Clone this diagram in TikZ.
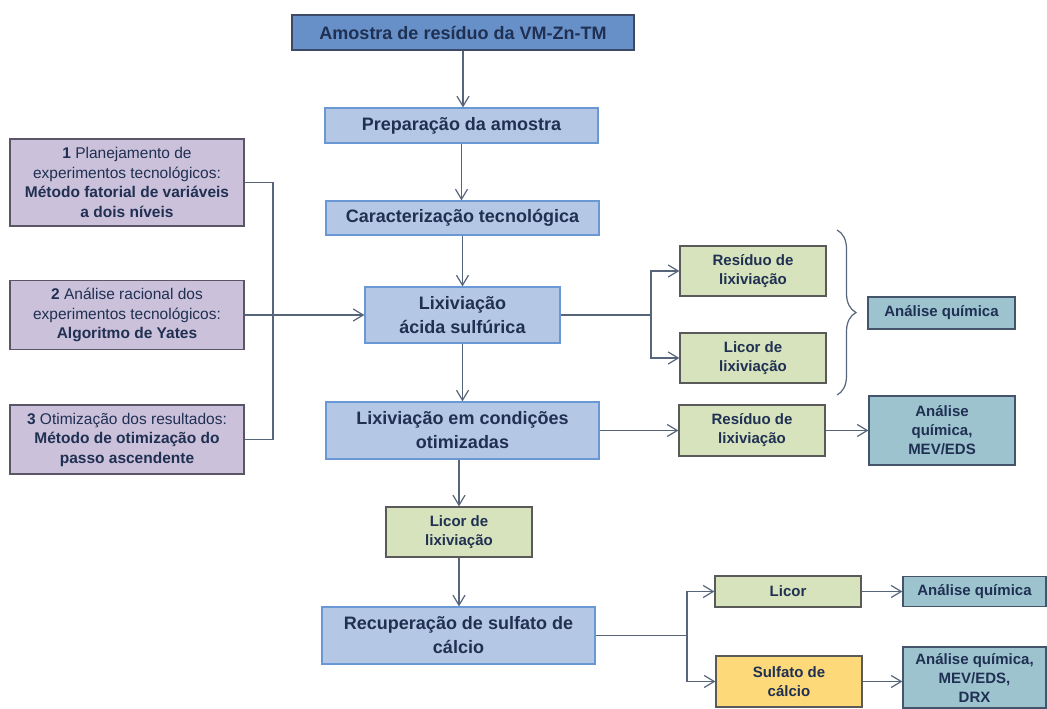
\documentclass[tikz,border=0pt]{standalone}
\usepackage{fontspec}
\setmainfont{Liberation Sans}
\usetikzlibrary{arrows.meta,decorations.pathreplacing}
\definecolor{txt}{HTML}{1F3052}
\definecolor{topfill}{HTML}{6890C8}
\definecolor{topline}{HTML}{3C4A68}
\definecolor{lbfill}{HTML}{B4C7E5}
\definecolor{lbline}{HTML}{6A98D4}
\definecolor{purfill}{HTML}{CCC1DA}
\definecolor{purline}{HTML}{5A5668}
\definecolor{grfill}{HTML}{D6E3BC}
\definecolor{grline}{HTML}{5A5A5A}
\definecolor{tlfill}{HTML}{9DC3CF}
\definecolor{tlline}{HTML}{44546A}
\definecolor{yefill}{HTML}{FDD97A}
\definecolor{conn}{HTML}{56657A}
\tikzset{
  box/.style={draw, line width=1.3pt, inner sep=2pt, align=center, text=txt, font=\bfseries},
  topbox/.style={box, fill=topfill, draw=topline, font=\fontsize{18}{22}\selectfont\bfseries},
  bluebox/.style={box, fill=lbfill, draw=lbline, font=\fontsize{18}{24}\selectfont\bfseries},
  purbox/.style={box, fill=purfill, draw=purline, font=\fontsize{15.5}{19.5}\selectfont},
  grbox/.style={box, fill=grfill, draw=grline, font=\fontsize{15}{19}\selectfont\bfseries},
  tlbox/.style={box, fill=tlfill, draw=tlline, font=\fontsize{15}{19}\selectfont\bfseries},
  yebox/.style={box, fill=yefill, draw=grline, font=\fontsize{15}{19}\selectfont\bfseries},
  ln/.style={draw=conn, line width=1.3pt},
  arr/.style={ln, -{Straight Barb[length=10pt,width=12pt,line width=1.2pt]}},
}
\begin{document}
\begin{tikzpicture}[x=1pt,y=-1pt]
\useasboundingbox[fill=white] (0,0) rectangle (1047,709);
% main column
\node[topbox, minimum width=342pt, minimum height=35pt] (top) at (463,32.5) {Amostra de resíduo da VM-Zn-TM};
\node[bluebox, minimum width=273pt, minimum height=35pt] (prep) at (461.5,125.5) {Preparação da amostra};
\node[bluebox, minimum width=273pt, minimum height=34pt] (carac) at (462.5,218) {Caracterização tecnológica};
\node[bluebox, minimum width=195pt, minimum height=56pt] (lixa) at (462.5,315) {Lixiviação\\ácida sulfúrica};
\node[bluebox, minimum width=273pt, minimum height=57pt] (lixo) at (462.5,430.5) {Lixiviação em condições\\otimizadas};
\node[grbox, minimum width=146pt, minimum height=50pt] (licor1) at (459,532) {Licor de\\lixiviação};
\node[bluebox, minimum width=273pt, minimum height=57pt] (recup) at (458.5,635.5) {Recuperação de sulfato de\\cálcio};
% left column
\node[purbox, minimum width=234pt, minimum height=87pt] (p1) at (127,182.5) {\textbf{1} Planejamento de\\experimentos tecnológicos:\\\textbf{Método fatorial de variáveis}\\\textbf{a dois níveis}};
\node[purbox, minimum width=234pt, minimum height=69pt] (p2) at (127,315) {\textbf{2} Análise racional dos\\experimentos tecnológicos:\\\textbf{Algoritmo de Yates}};
\node[purbox, minimum width=234pt, minimum height=69pt] (p3) at (127,439.5) {\textbf{3} Otimização dos resultados:\\\textbf{Método de otimização do}\\\textbf{passo ascendente}};
% right side
\node[grbox, minimum width=146pt, minimum height=50pt] (res1) at (753,271) {Resíduo de\\lixiviação};
\node[grbox, minimum width=146pt, minimum height=50pt] (lic2) at (753,358) {Licor de\\lixiviação};
\node[tlbox, minimum width=147pt, minimum height=32pt] (aq1) at (941.5,313) {Análise química};
\node[grbox, minimum width=146pt, minimum height=51pt] (res2) at (752,430.5) {Resíduo de\\lixiviação};
\node[tlbox, minimum width=146pt, minimum height=69pt] (aq2) at (942,430.5) {Análise\\química,\\MEV/EDS};
\node[grbox, minimum width=146pt, minimum height=31pt] (licor3) at (788,591.5) {Licor};
\node[tlbox, minimum width=143pt, minimum height=30pt] (aq3) at (974.5,591.5) {Análise química};
\node[yebox, minimum width=146pt, minimum height=51pt] (sulf) at (789,681.5) {Sulfato de\\cálcio};
\node[tlbox, minimum width=143pt, minimum height=61pt] (aq4) at (974.5,677.5) {Análise química,\\MEV/EDS,\\DRX};
% vertical flow
\draw[arr] (top.south) -- (top.south |- prep.north);
\draw[arr] (prep.south) -- (prep.south |- carac.north);
\draw[arr] (carac.south) -- (carac.south |- lixa.north);
\draw[arr] (lixa.south) -- (lixa.south |- lixo.north);
\draw[arr] (licor1.north |- lixo.south) -- (licor1.north);
\draw[arr] (licor1.south) -- (licor1.south |- recup.north);
% left bracket
\coordinate (j1) at (273,315);
\draw[ln] (p1.east) -- (j1 |- p1.east) -- (j1 |- p3.east) -- (p3.east);
\draw[ln] (p2.east) -- (j1);
\draw[arr] (j1) -- (lixa.west);
% right split
\coordinate (j2) at (651,315);
\draw[ln] (lixa.east) -- (j2);
\draw[arr] (j2) |- (res1.west);
\draw[arr] (j2) |- (lic2.west);
\coordinate (bt) at (837,230);
\coordinate (bb) at (837,395);
\draw[draw=conn, line width=1.2pt, decorate, decoration={brace, amplitude=19pt, aspect=0.5}] (bt) -- (bb);
\draw[arr] (lixo.east) -- (res2.west);
\draw[arr] (res2.east) -- (aq2.west);
% bottom split
\coordinate (j3) at (687,635.5);
\draw[ln] (recup.east) -- (j3);
\draw[arr] (j3) |- (licor3.west);
\draw[arr] (j3) |- (sulf.west);
\draw[arr] (licor3.east) -- (aq3.west);
\draw[arr] (sulf.east) -- (sulf.east -| aq4.west);
\end{tikzpicture}
\end{document}
